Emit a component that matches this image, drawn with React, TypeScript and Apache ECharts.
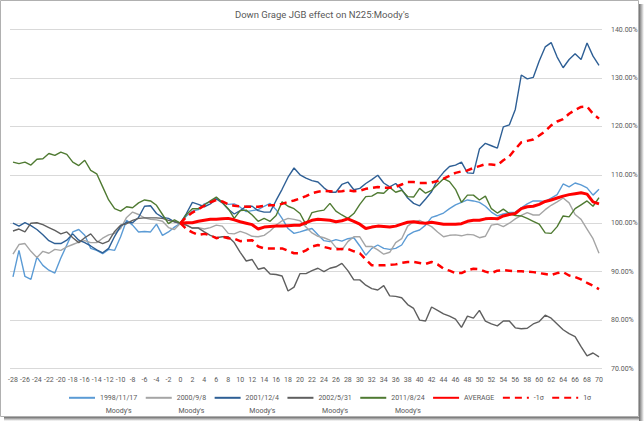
import React, { useEffect, useRef } from "react";
import * as echarts from "echarts";

const days = [
  -28, -27, -26, -25, -24, -23, -22, -21, -20, -19, -18, -17, -16, -15, -14, -13, -12, -11, -10, -9,
  -8, -7, -6, -5, -4, -3, -2, -1, 0, 1, 2, 3, 4, 5, 6, 7, 8, 9, 10, 11, 12, 13, 14, 15, 16, 17, 18,
  19, 20, 21, 22, 23, 24, 25, 26, 27, 28, 29, 30, 31, 32, 33, 34, 35, 36, 37, 38, 39, 40, 41, 42, 43,
  44, 45, 46, 47, 48, 49, 50, 51, 52, 53, 54, 55, 56, 57, 58, 59, 60, 61, 62, 63, 64, 65, 66, 67, 68,
  69, 70,
];

const yTicks = [70, 80, 90, 100, 110, 120, 130, 140];

const s1998 = [
  88.9, 94.4, 89.0, 88.4, 93.0, 91.3, 90.3, 89.7, 92.8, 95.5, 98.2, 98.7, 97.5, 94.8, 94.4, 93.7, 94.6, 94.4, 97.2, 100.6, 99.6, 98.2, 98.3, 98.2, 99.8, 97.5, 98.2, 99.2, 100,
  101.5, 102.5, 102.8, 104.0, 104.4, 105.2, 104.4, 103.9, 104.0, 103.3,
  102.4, 102.6, 102.8, 103.5, 104.1, 102.8, 101.0, 98.9, 97.9, 98.2,
  98.6, 98.9, 97.6, 96.4, 96.2, 96.6, 96.3, 96.8, 97.0, 95.3,
  93.4, 94.8, 95.5, 94.8, 94.6, 94.8, 95.5, 97.5, 98.2, 98.6,
  99.6, 101.2, 101.6, 102.1, 103.0, 103.8, 104.3, 104.8, 104.6, 104.3,
  103.5, 102.3, 101.5, 101.9, 102.2, 102.3, 103.2, 104.0, 104.6, 104.6,
  104.5, 105.2, 105.9, 108.1, 107.5, 108.3, 107.9, 107.3, 105.8, 107.0,
];

const s2000 = [
  93.6, 95.6, 95.8, 94.2, 92.9, 94.2, 93.8, 94.6, 94.4, 95.1, 95.6, 96.1, 96.4, 96.0, 96.0, 96.9, 97.6, 97.9, 98.9, 101.2, 102.3, 101.8, 101.1, 100.8, 100.7, 100.4, 99.1, 98.7, 100,
  99.6, 99.0, 99.1, 98.8, 99.1, 99.6, 99.4, 97.9, 97.8, 98.3,
  97.9, 97.3, 97.2, 97.5, 98.4, 99.6, 100.5, 101.0, 100.8, 100.5,
  99.2, 98.0, 97.3, 97.0, 96.5, 95.0, 94.5, 96.2, 97.2, 97.2,
  95.2, 95.2, 94.5, 93.6, 94.0, 96.0, 96.8, 99.4, 100.3, 100.6,
  99.9, 99.3, 98.2, 97.2, 97.5, 97.6, 97.4, 97.7, 97.6, 97.0,
  97.3, 99.6, 99.8, 99.3, 100.0, 100.9, 101.6, 102.2, 101.7, 101.7,
  102.8, 103.7, 104.4, 105.2, 104.2, 101.8, 100.8, 98.8, 96.8, 93.8,
];

const s2001 = [
  100.0, 99.4, 100.1, 99.5, 98.7, 97.6, 96.4, 95.8, 95.8, 96.5, 97.8, 96.5, 96.0, 95.3, 94.5, 93.9, 94.8, 97.3, 99.4, 100.2, 100.1, 101.2, 103.5, 103.6, 102.0, 101.2, 101.0, 100.3, 100,
  102.0, 104.3, 103.9, 103.4, 104.0, 105.0, 104.2, 102.9, 101.9, 102.6,
  103.5, 103.5, 102.6, 102.3, 102.3, 104.7, 107.0, 109.5, 111.4, 110.0,
  109.3, 108.8, 108.5, 107.3, 106.4, 106.4, 108.0, 108.5, 106.9, 107.2,
  108.2, 109.0, 109.9, 108.3, 107.5, 108.2, 107.0, 105.2, 104.1, 103.6,
  105.0, 106.5, 109.0, 110.5, 111.7, 112.0, 112.6, 110.4, 110.3, 115.3,
  116.5, 116.0, 115.5, 119.9, 120.3, 123.5, 130.6, 129.8, 130.1, 133.5,
  136.4, 137.3, 134.3, 132.1, 133.8, 135.0, 133.8, 137.2, 134.5, 132.6,
];

const s2002 = [
  98.4, 98.8, 98.2, 100.0, 100.1, 99.7, 99.1, 98.5, 97.8, 98.2, 97.0, 96.0, 97.0, 97.8, 96.3, 95.8, 96.3, 98.3, 99.6, 99.9, 100.6, 101.0, 101.1, 101.1, 101.1, 101.0, 100.6, 100.3, 100,
  99.6, 99.0, 99.0, 98.2, 97.5, 97.0, 97.2, 97.2, 96.0, 94.0,
  92.2, 92.5, 90.5, 90.8, 89.5, 89.4, 89.1, 86.0, 86.8, 89.6,
  89.6, 90.2, 90.7, 90.0, 90.7, 91.0, 91.7, 90.2, 88.3, 88.3,
  87.2, 86.5, 86.2, 87.1, 85.0, 84.9, 84.6, 83.2, 82.4, 80.0,
  79.8, 82.7, 82.0, 81.3, 80.8, 80.2, 78.5, 80.8, 80.4, 82.0,
  79.8, 79.2, 78.8, 79.8, 79.8, 78.4, 78.2, 78.3, 79.2, 79.7,
  81.0, 80.4, 79.2, 78.0, 77.2, 76.6, 74.5, 72.6, 73.2, 72.4,
];

const s2011 = [
  112.6, 112.3, 112.6, 112.0, 113.2, 113.3, 114.4, 114.0, 114.7, 114.2, 112.6, 111.9, 113.0, 110.9, 110.2, 107.5, 104.8, 103.0, 102.5, 103.4, 103.2, 104.2, 104.8, 104.6, 103.7, 101.8, 99.9, 100.7, 100,
  101.8, 103.0, 103.0, 103.8, 104.6, 105.4, 104.3, 103.0, 101.0, 102.6,
  102.7, 101.7, 100.4, 101.0, 100.4, 101.6, 104.4, 103.5, 103.0, 102.0,
  99.7, 102.2, 102.5, 102.7, 104.1, 102.5, 101.7, 101.0, 102.0, 103.9,
  105.5, 105.6, 106.3, 106.2, 107.4, 106.4, 106.8, 105.5, 105.4, 107.2,
  106.2, 106.8, 108.0, 109.2, 108.6, 107.0, 104.3, 105.8, 105.8, 104.8,
  105.6, 103.0, 102.1, 102.9, 102.0, 101.6, 101.5, 101.0, 100.4, 99.8,
  98.0, 97.9, 99.3, 101.5, 101.3, 103.0, 103.8, 104.6, 103.5, 105.3,
];

// from day 0 onwards
const average = [
  100, 100.1, 100.1, 100.4, 100.6, 100.8, 100.8, 100.9, 101.0, 100.7, 100.3,
  100.0, 99.7, 98.8, 99.2, 99.3, 99.4, 99.4, 99.5, 99.6, 99.6,
  100.1, 100.6, 100.8, 100.7, 100.6, 100.3, 100.5, 100.9, 100.4, 99.8,
  98.9, 99.2, 99.4, 99.3, 99.2, 99.4, 99.8, 100.2, 100.3, 100.1,
  100.0, 100.2, 100.0, 99.8, 99.8, 99.8, 99.9, 100.4, 100.6, 100.6,
  100.9, 101.0, 100.9, 101.5, 101.8, 102.0, 103.0, 103.4, 103.5, 103.9,
  104.5, 104.8, 105.2, 105.6, 105.9, 106.1, 106.3, 106.0, 104.4, 104.0,
];

const minus1 = [
  100, 98.8, 98.1, 97.6, 97.8, 97.5, 96.9, 97.2, 96.9, 96.8, 96.3,
  96.4, 96.5, 95.2, 94.8, 94.8, 94.8, 94.8, 94.3, 93.8, 93.8,
  94.4, 95.2, 95.5, 95.1, 94.8, 94.6, 94.7, 94.7, 94.2, 93.8,
  92.5, 91.3, 91.3, 91.3, 91.4, 91.5, 91.8, 92.0, 92.0, 91.8,
  91.6, 92.0, 91.5, 90.6, 90.2, 89.7, 89.7, 90.3, 90.6, 90.5,
  90.0, 89.7, 90.2, 90.3, 90.2, 90.1, 90.1, 90.0, 89.9, 89.7,
  89.5, 89.3, 89.7, 89.9, 89.2, 88.9, 88.4, 87.7, 87.1, 86.4,
];

const plus1 = [
  100, 101.3, 102.2, 102.9, 103.6, 104.3, 104.8, 104.5, 103.9, 103.6, 103.5,
  103.4, 103.4, 103.4, 103.6, 103.7, 103.7, 104.0, 104.4, 104.7, 105.1,
  105.6, 106.2, 106.5, 106.7, 106.6, 106.5, 106.6, 106.8, 106.6, 106.7,
  107.1, 107.3, 107.5, 107.3, 107.3, 107.5, 108.0, 108.5, 108.5, 108.3,
  108.3, 108.4, 108.7, 109.2, 109.8, 110.4, 110.7, 110.9, 111.4, 111.8,
  112.2, 112.1, 112.0, 113.0, 113.8, 115.3, 116.7, 117.0, 117.3, 118.1,
  119.0, 120.2, 121.0, 121.5, 122.6, 123.4, 124.0, 124.1, 122.6, 121.6,
];

const seriesNames = [
  "1998/11/17\nMoody's",
  "2000/9/8\nMoody's",
  "2001/12/4\nMoody's",
  "2002/5/31\nMoody's",
  "2011/8/24\nMoody's",
  "AVERAGE",
  "-1σ",
  "1σ",
];

const FONT = "Roboto, 'Liberation Sans', sans-serif";
const TXT = "#595959";
const LH = 13;

export default function App() {
  const ref = useRef<HTMLDivElement>(null);

  useEffect(() => {
    if (!ref.current) return;
    const chart = echarts.init(ref.current, undefined, { renderer: "svg" });
    const lead = days.indexOf(0);
    const pad = (arr: number[]) => [...new Array(lead).fill(null), ...arr];

    const thin = (name: string, data: number[], color: string) => ({
      name,
      type: "line",
      data,
      symbol: "none",
      lineStyle: { color, width: 1.4 },
      itemStyle: { color },
    });

    const legendData = seriesNames.map((n) => ({
      name: n,
      textStyle: n.includes("\n") ? { padding: [LH, 0, 0, 0] } : { padding: [0, 0, 0, 0] },
    }));

    chart.setOption({
      animation: false,
      backgroundColor: "#ffffff",
      textStyle: { fontFamily: FONT },
      title: {
        text: "Down Grage JGB effect on N225:Moody's",
        left: "center",
        top: 4,
        textStyle: { fontFamily: FONT, fontSize: 9.5, fontWeight: "normal", color: TXT },
      },
      legend: {
        data: legendData,
        left: 63,
        top: 388,
        itemWidth: 26,
        itemHeight: 12,
        itemGap: 7.5,
        itemStyle: { opacity: 0 },
        formatter: (name: string) =>
          name
            .split("\n")
            .map((s) => `{c|${s}}`)
            .join("\n"),
        textStyle: {
          fontFamily: FONT,
          fontSize: 7,
          color: TXT,
          rich: { c: { align: "center", lineHeight: LH, fontSize: 7, color: TXT, fontFamily: FONT } },
        },
      },
      grid: { left: 10, right: 42, top: 29.5, bottom: 52.5, containLabel: false },
      xAxis: {
        type: "category",
        data: days.map(String),
        boundaryGap: true,
        axisLine: { show: false },
        axisTick: { show: false },
        axisLabel: { interval: 1, color: TXT, fontSize: 7, fontFamily: FONT, margin: 8 },
        splitLine: { show: false },
      },
      yAxis: {
        type: "value",
        position: "right",
        min: yTicks[0],
        max: yTicks[yTicks.length - 1],
        interval: 10,
        axisLine: { show: false },
        axisTick: { show: false },
        axisLabel: {
          color: TXT,
          fontSize: 7,
          fontFamily: FONT,
          margin: 9,
          formatter: (v: number) => v.toFixed(2) + "%",
        },
        splitLine: { lineStyle: { color: "#D9D9D9", width: 1 } },
      },
      series: [
        thin(seriesNames[0], s1998, "#5B9BD5"),
        thin(seriesNames[1], s2000, "#A5A5A5"),
        thin(seriesNames[2], s2001, "#2E5F95"),
        thin(seriesNames[3], s2002, "#5F5F5F"),
        thin(seriesNames[4], s2011, "#4F7A32"),
        {
          name: seriesNames[5],
          type: "line",
          data: pad(average),
          symbol: "none",
          lineStyle: { color: "#FF0000", width: 3 },
          itemStyle: { color: "#FF0000" },
        },
        {
          name: seriesNames[6],
          type: "line",
          data: pad(minus1),
          symbol: "none",
          lineStyle: { color: "#FF0000", width: 2.5, type: [7, 5] },
          itemStyle: { color: "#FF0000" },
        },
        {
          name: seriesNames[7],
          type: "line",
          data: pad(plus1),
          symbol: "none",
          lineStyle: { color: "#FF0000", width: 2.5, type: [7, 5] },
          itemStyle: { color: "#FF0000" },
        },
      ],
      graphic: [
        {
          type: "rect",
          silent: true,
          shape: { x: 0.5, y: 0.5, width: 638, height: 416 },
          style: { fill: "none", stroke: "#B0B0B0", lineWidth: 1 },
        },
        {
          type: "rect",
          silent: true,
          shape: { x: 639, y: 4, width: 5, height: 417 },
          style: {
            fill: new echarts.graphic.LinearGradient(0, 0, 1, 0, [
              { offset: 0, color: "rgba(60,60,60,0.75)" },
              { offset: 1, color: "rgba(60,60,60,0)" },
            ]),
          },
        },
        {
          type: "rect",
          silent: true,
          shape: { x: 4, y: 417, width: 635, height: 4 },
          style: {
            fill: new echarts.graphic.LinearGradient(0, 0, 0, 1, [
              { offset: 0, color: "rgba(60,60,60,0.75)" },
              { offset: 1, color: "rgba(60,60,60,0)" },
            ]),
          },
        },
      ],
    });

    return () => chart.dispose();
  }, []);

  return (
    <div
      ref={ref}
      style={{ position: "fixed", left: 0, top: 0, width: 644, height: 421, background: "#fff" }}
    />
  );
}
